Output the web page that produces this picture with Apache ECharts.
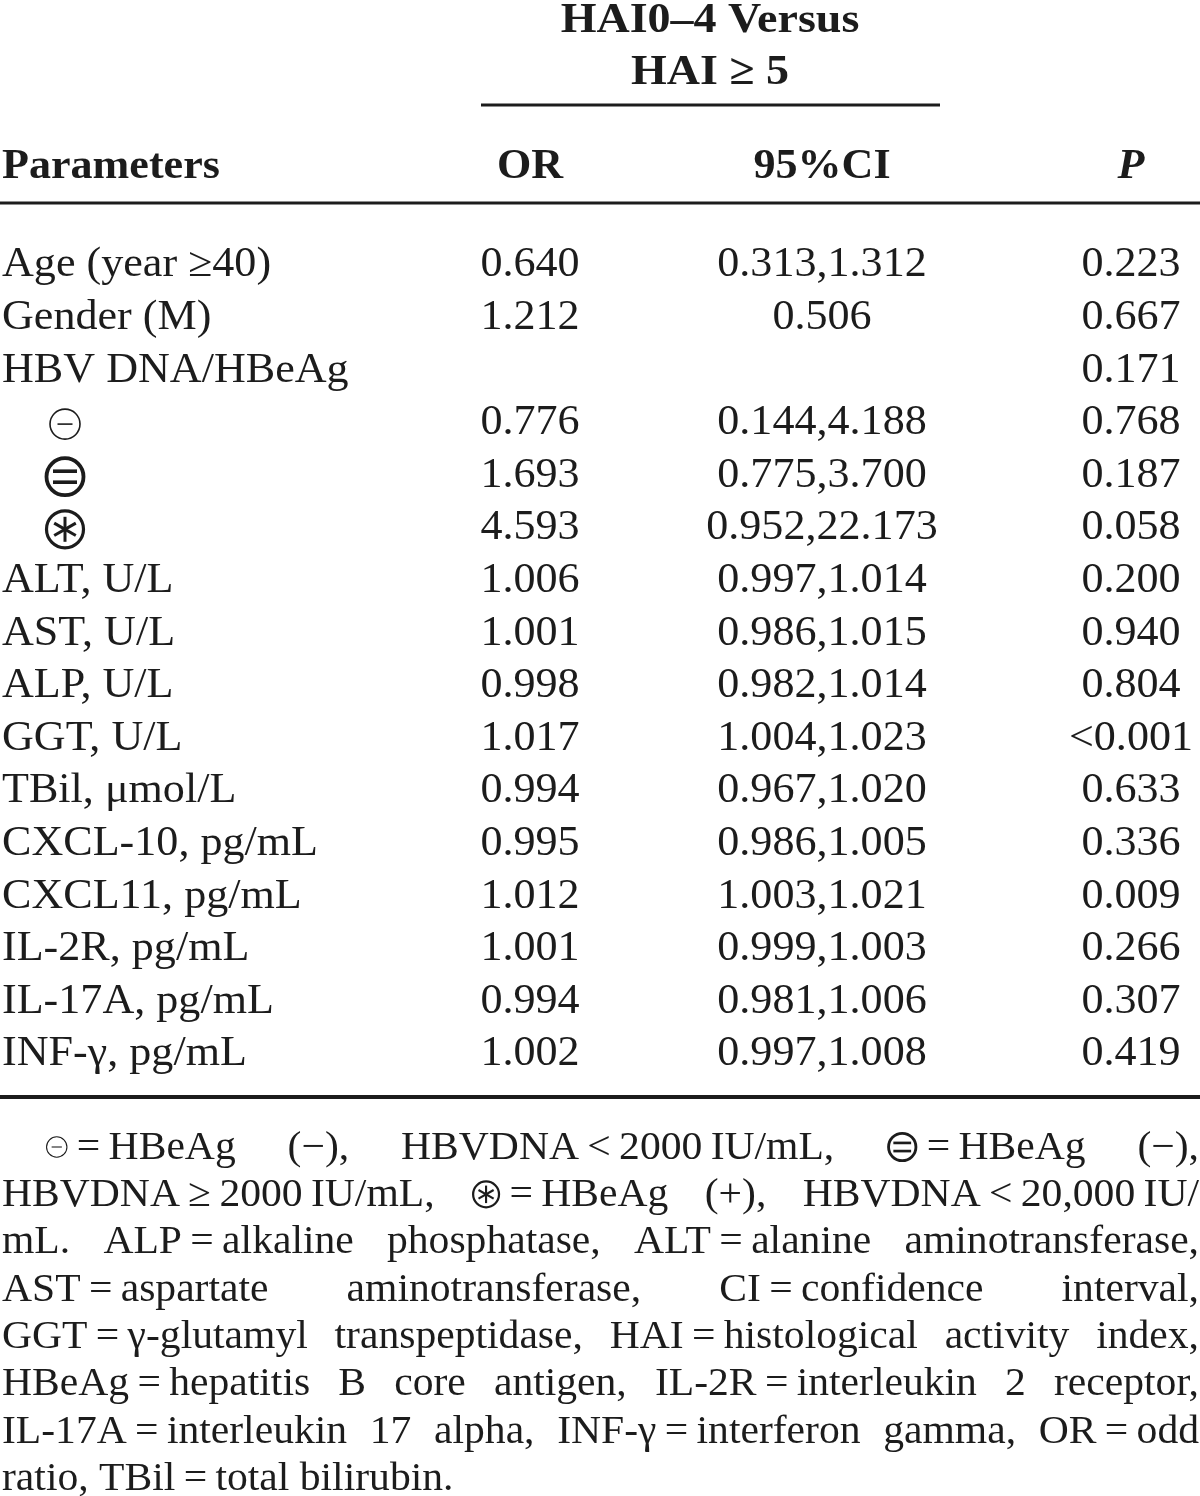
<!DOCTYPE html>
<html>
<head>
<meta charset="utf-8">
<script src="https://cdn.jsdelivr.net/npm/echarts@6.0.0/dist/echarts.min.js"></script>
<style>
html,body{margin:0;padding:0;background:#ffffff;}
#chart{width:1200px;height:1496px;}
</style>
</head>
<body>
<div id="chart"></div>
<script>
// ---------------- data ----------------
const groupTitle = ['HAI0\u20134 Versus', 'HAI \u2265 5'];
const columnHeaders = ['Parameters', 'OR', '95%CI', 'P'];
const parameters = [
  'Age (year \u226540)', 'Gender (M)', 'HBV DNA/HBeAg', '\u229D', '\u229C', '\u229B',
  'ALT, U/L', 'AST, U/L', 'ALP, U/L', 'GGT, U/L', 'TBil, \u03BCmol/L',
  'CXCL-10, pg/mL', 'CXCL11, pg/mL', 'IL-2R, pg/mL', 'IL-17A, pg/mL', 'INF-\u03B3, pg/mL'
];
const orValues = [0.640, 1.212, null, 0.776, 1.693, 4.593, 1.006, 1.001, 0.998, 1.017, 0.994, 0.995, 1.012, 1.001, 0.994, 1.002];
const ciValues = [
  [0.313, 1.312], [0.506], [], [0.144, 4.188], [0.775, 3.700], [0.952, 22.173],
  [0.997, 1.014], [0.986, 1.015], [0.982, 1.014], [1.004, 1.023], [0.967, 1.020],
  [0.986, 1.005], [1.003, 1.021], [0.999, 1.003], [0.981, 1.006], [0.997, 1.008]
];
const pValues = ['0.223', '0.667', '0.171', '0.768', '0.187', '0.058', '0.200', '0.940', '0.804', '<0.001', '0.633', '0.336', '0.009', '0.266', '0.307', '0.419'];
const footnoteLines = [
  '\u229D = HBeAg|(\u2212),|HBVDNA < 2000 IU/mL,|\u229C = HBeAg|(\u2212),',
  'HBVDNA \u2265 2000 IU/mL,|\u229B = HBeAg|(+),|HBVDNA < 20,000 IU/',
  'mL.|ALP = alkaline|phosphatase,|ALT = alanine|aminotransferase,',
  'AST = aspartate|aminotransferase,|CI = confidence|interval,',
  'GGT = \u03B3-glutamyl|transpeptidase,|HAI = histological|activity|index,',
  'HBeAg = hepatitis|B|core|antigen,|IL-2R = interleukin|2|receptor,',
  'IL-17A = interleukin|17|alpha,|INF-\u03B3 = interferon|gamma,|OR = odd',
  'ratio,|TBil = total|bilirubin.'
];

// ---------------- layout / style ----------------
const W = 1200;
const INK = '#1c1c1c';
const SERIF = '"Liberation Serif", "Times New Roman", Times, serif';
const SX = 1.05;
const BODY = '42px ' + SERIF;
const HEAD = 'bold 42px ' + SERIF;
const COLS = [{x: 2, align: 'left'}, {x: 530, align: 'center'}, {x: 822, align: 'center'}, {x: 1131, align: 'center'}];
const SYMBOL_X = 65;
const FOOT_SIZE = 40, FOOT_SX = 1.04, FOOT_Y0 = 1148, FOOT_DY = 47.35, FOOT_INDENT = 45;
const SYM_SPEC = {
  '\u229D': {r: 15, lw: 1.6, lines: [[-7.5, 0, 7.5, 0]], llw: 1.6, fk: 0.68},
  '\u229C': {r: 18.5, lw: 3.8, lines: [[-12, -5.5, 12, -5.5], [-12, 5.5, 12, 5.5]], llw: 3.6, fk: 0.74},
  '\u229B': {r: 18.5, lw: 3.2, lines: [[0, -12.5, 0, 12.5], [-10.8, -6.2, 10.8, 6.2], [-10.8, 6.2, 10.8, -6.2]], llw: 3, fk: 0.7}
};
const isSym = ch => !!SYM_SPEC[ch];

function symbolGroup(ch, cx, cy, k) {
  const s = SYM_SPEC[ch];
  const children = [{type: 'circle', shape: {cx: 0, cy: 0, r: s.r}, style: {fill: 'none', stroke: INK, lineWidth: s.lw}}];
  s.lines.forEach(l => children.push({type: 'line', shape: {x1: l[0], y1: l[1], x2: l[2], y2: l[3]}, style: {stroke: INK, lineWidth: s.llw}}));
  return {type: 'group', x: cx, y: cy, scaleX: k, scaleY: k, children: children};
}

function cellText(c, r) {
  if (c === 0) return parameters[r];
  if (c === 1) return orValues[r] == null ? '' : orValues[r].toFixed(3);
  if (c === 2) return ciValues[r].map(v => v.toFixed(3)).join(',');
  return pValues[r];
}

const cells = [];
parameters.forEach((p, r) => { for (let c = 0; c < 4; c++) cells.push([c, r]); });

// ---------------- footnote (justified lines) ----------------
const mctx = document.createElement('canvas').getContext('2d');
function measure(text, font) { mctx.font = font; return mctx.measureText(text).width; }
const footFont = FOOT_SIZE + 'px ' + SERIF;

function splitSegments(word) {
  const txt = word.replace(/ /g, '\u2009');
  const segs = [];
  let buf = '';
  for (const ch of txt) {
    if (isSym(ch)) {
      if (buf) { segs.push({t: buf}); buf = ''; }
      segs.push({t: ch, sym: true});
    } else buf += ch;
  }
  if (buf) segs.push({t: buf});
  segs.forEach(s => {
    if (s.sym) { const sp = SYM_SPEC[s.t]; s.w = (2 * sp.r + sp.lw) * sp.fk + 2; }
    else s.w = measure(s.t, footFont) * FOOT_SX;
  });
  return segs;
}

const footGraphics = [];
footnoteLines.forEach((line, li) => {
  const words = line.split('|').map(splitSegments);
  const widths = words.map(segs => segs.reduce((a, s) => a + s.w, 0));
  const total = widths.reduce((a, b) => a + b, 0);
  const startX = li === 0 ? FOOT_INDENT : 2;
  const last = li === footnoteLines.length - 1;
  let gap = last ? measure(' ', footFont) * FOOT_SX : (W - 1 - startX - total) / (words.length - 1);
  let squeeze = 1;
  if (gap < 6) { gap = 6; squeeze = (W - 1 - startX - gap * (words.length - 1)) / total; }
  let x = startX;
  const y = FOOT_Y0 + li * FOOT_DY;
  words.forEach((segs) => {
    segs.forEach(s => {
      if (s.sym) {
        footGraphics.push(symbolGroup(s.t, x + s.w * squeeze / 2, y - 1, SYM_SPEC[s.t].fk));
      } else {
        footGraphics.push({
          type: 'text', x: x, y: y, scaleX: FOOT_SX * squeeze,
          style: {text: s.t, font: footFont, fill: INK, align: 'left', verticalAlign: 'middle'}
        });
      }
      x += s.w * squeeze;
    });
    x += gap;
  });
});

// ---------------- header graphics ----------------
const headerGraphics = [
  {type: 'text', x: 710, y: 21, scaleX: 1.07, style: {text: groupTitle[0], font: 'bold 43px ' + SERIF, fill: INK, align: 'center', verticalAlign: 'middle'}},
  {type: 'text', x: 710, y: 73, scaleX: 1.07, style: {text: groupTitle[1], font: 'bold 43px ' + SERIF, fill: INK, align: 'center', verticalAlign: 'middle'}},
  {type: 'line', shape: {x1: 481, y1: 105, x2: 940, y2: 105}, style: {stroke: INK, lineWidth: 3}},
  {type: 'line', shape: {x1: 0, y1: 203, x2: W, y2: 203}, style: {stroke: INK, lineWidth: 3}},
  {type: 'line', shape: {x1: 0, y1: 1097, x2: W, y2: 1097}, style: {stroke: INK, lineWidth: 4}}
];
columnHeaders.forEach((h, c) => {
  headerGraphics.push({
    type: 'text', x: COLS[c].x, y: 167, scaleX: SX,
    style: {text: h, font: (c === 3 ? 'italic bold 42px ' : 'bold 42px ') + SERIF, fill: INK, align: COLS[c].align, verticalAlign: 'middle'}
  });
});

// ---------------- chart ----------------
const chart = echarts.init(document.getElementById('chart'), null, {renderer: 'canvas'});
chart.setOption({
  backgroundColor: '#ffffff',
  animation: false,
  grid: {left: 0, right: 0, top: 239, height: 841.6, containLabel: false},
  xAxis: {type: 'value', min: 0, max: W, show: false},
  yAxis: {type: 'category', data: parameters, inverse: true, show: false},
  graphic: headerGraphics.concat(footGraphics),
  series: [{
    type: 'custom',
    coordinateSystem: 'cartesian2d',
    silent: true,
    encode: {x: 0, y: 1},
    data: cells,
    renderItem: function (params, api) {
      const c = api.value(0), r = api.value(1);
      const text = cellText(c, r);
      if (!text) return null;
      if (c === 0 && isSym(text)) {
        const p = api.coord([SYMBOL_X, r]);
        return symbolGroup(text, p[0], p[1] + 1, 1);
      }
      const pt = api.coord([COLS[c].x, r]);
      return {
        type: 'text', x: pt[0], y: pt[1], scaleX: SX,
        style: {text: text, font: BODY, fill: INK, align: COLS[c].align, verticalAlign: 'middle'}
      };
    }
  }]
});
</script>
</body>
</html>
